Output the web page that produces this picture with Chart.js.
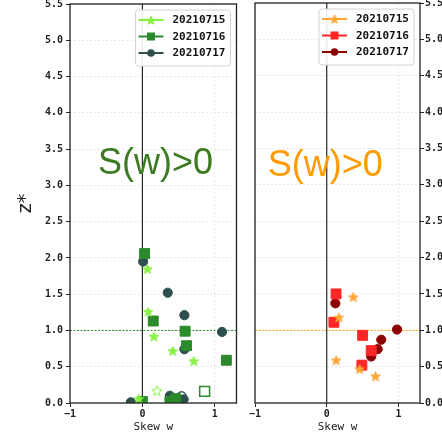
<!DOCTYPE html>
<html>
<head>
<meta charset="utf-8">
<script src="https://cdn.jsdelivr.net/npm/chart.js@4/dist/chart.umd.min.js"></script>
<style>
  html, body { margin: 0; padding: 0; background: #fff; }
  #wrap { position: relative; width: 442px; height: 435px; overflow: hidden; }
  #left { position: absolute; left: 0; top: -5px; }
  #right { position: absolute; left: 240px; top: -5px; }
</style>
</head>
<body>
<div id="wrap">
  <canvas id="left" width="245" height="440"></canvas>
  <canvas id="right" width="202" height="440"></canvas>
</div>
<script>
// series labels and ticks
var dates = ['20210715', '20210716', '20210717'];
var xTicks = [-1, 0, 1];
var yTicks = [0, 0.5, 1, 1.5, 2, 2.5, 3, 3.5, 4, 4.5, 5, 5.5];
var annotation = 'S(w)>0';

// left panel (skew w, z*)
var leftStars = [[0.07, 1.85], [0.08, 1.26], [0.16, 0.92], [0.42, 0.72], [0.71, 0.58], [-0.05, 0.06]];
var leftSquares = [[0.03, 2.06], [0.15, 1.13], [0.59, 0.99], [0.61, 0.79], [1.16, 0.59], [0.00, 0.02], [0.38, 0.02], [0.46, 0.06]];
var leftCircles = [[0.01, 1.95], [0.35, 1.52], [0.58, 1.21], [1.10, 0.98], [0.58, 0.74], [0.38, 0.10], [-0.16, 0.01], [0.57, 0.05]];
var leftHollowStar = [[0.20, 0.17]];
var leftHollowSquare = [[0.86, 0.16]];
var leftHollowCircle = [[0.54, 0.09]];

// right panel
var rightStars = [[0.37, 1.46], [0.17, 1.18], [0.13, 0.59], [0.46, 0.47], [0.68, 0.37]];
var rightSquares = [[0.13, 1.50], [0.10, 1.11], [0.50, 0.93], [0.62, 0.72], [0.49, 0.52]];
var rightCircles = [[0.12, 1.37], [0.98, 1.01], [0.76, 0.87], [0.71, 0.74], [0.62, 0.64]];

var refY = 1;
var refX = 0;

function pts(arr) {
  return arr.map(function (p) { return { x: p[0], y: p[1] }; });
}

function starImage(fill, stroke, r) {
  var c = document.createElement('canvas');
  var s = Math.ceil(r * 2 + 3);
  c.width = s; c.height = s;
  var g = c.getContext('2d');
  g.beginPath();
  for (var i = 0; i < 10; i++) {
    var rr = i % 2 === 0 ? r : r * 0.42;
    var a = -Math.PI / 2 + i * Math.PI / 5;
    var px = s / 2 + rr * Math.cos(a), py = s / 2 + 0.6 + rr * Math.sin(a);
    if (i === 0) g.moveTo(px, py); else g.lineTo(px, py);
  }
  g.closePath();
  g.fillStyle = fill; g.fill();
  g.lineWidth = 1; g.strokeStyle = stroke; g.stroke();
  return c;
}

function dataset(label, data, color, style, radius, hollow) {
  return {
    label: label,
    data: pts(data),
    pointStyle: style,
    pointRadius: radius,
    backgroundColor: hollow ? '#ffffff' : color,
    borderColor: color,
    borderWidth: hollow ? 1.5 : 1,
    showLine: false,
    legendHidden: !!hollow
  };
}

var monoBold = { family: 'DejaVu Sans Mono', size: 10, weight: 'bold' };

function makeScales(side) {
  return {
    x: {
      type: 'linear', min: -1, max: 1.3,
      afterBuildTicks: function (s) { s.ticks = xTicks.map(function (v) { return { value: v }; }); },
      afterFit: function (s) { s.height = 32; },
      grid: { color: '#e2e2e2', lineWidth: 0.8, tickLength: 4, tickColor: '#222', tickWidth: 1 },
      border: { display: false, dash: [2, 2] },
      ticks: {
        font: monoBold, color: '#222', padding: 1, maxRotation: 0,
        callback: function (v) { return v < 0 ? '\u2212' + Math.abs(v) : String(v); }
      },
      title: { display: true, text: 'Skew w', color: '#222', font: { family: 'DejaVu Sans Mono', size: 11 }, padding: { top: 0, bottom: 1 } }
    },
    y: {
      type: 'linear', min: 0, max: 5.5, position: side,
      afterBuildTicks: function (s) { s.ticks = yTicks.map(function (v) { return { value: v }; }); },
      afterFit: function (s) { s.width = side === 'left' ? 70 : 22; },
      grid: { color: '#e2e2e2', lineWidth: 0.8, tickLength: 4, tickColor: '#222', tickWidth: 1 },
      border: { display: false, dash: [2, 2] },
      ticks: {
        font: monoBold, color: '#222', padding: side === 'left' ? 3 : 1, autoSkip: false,
        callback: function (v) { return Number(v).toFixed(1); }
      },
      title: {
        display: side === 'left', text: 'z*', color: '#222',
        font: { family: 'DejaVu Sans', size: 19 }, padding: { top: 15, bottom: 0 }
      }
    }
  };
}

var panelDeco = {
  id: 'panelDeco',
  beforeDatasetsDraw: function (chart, args, o) {
    var ctx = chart.ctx, a = chart.chartArea, x = chart.scales.x, y = chart.scales.y;
    ctx.save();
    ctx.beginPath(); ctx.rect(a.left, a.top, a.right - a.left, a.bottom - a.top); ctx.clip();
    var py = y.getPixelForValue(refY);
    ctx.strokeStyle = o.refColor; ctx.lineWidth = 1; ctx.setLineDash([2, 1.5]);
    ctx.beginPath(); ctx.moveTo(a.left, py); ctx.lineTo(a.right, py); ctx.stroke();
    ctx.setLineDash([]);
    var px = x.getPixelForValue(refX);
    ctx.strokeStyle = '#2a2a2a'; ctx.lineWidth = 1.2;
    ctx.beginPath(); ctx.moveTo(px, a.top); ctx.lineTo(px, a.bottom); ctx.stroke();
    ctx.font = '36px "Liberation Sans", Arial, sans-serif';
    ctx.fillStyle = o.textColor; ctx.textAlign = 'center'; ctx.textBaseline = 'alphabetic';
    ctx.fillText(annotation, x.getPixelForValue(o.textX), y.getPixelForValue(o.textY));
    ctx.restore();
  },
  afterDraw: function (chart, args, o) {
    var ctx = chart.ctx, a = chart.chartArea;
    ctx.save();
    ctx.strokeStyle = '#222'; ctx.lineWidth = 1.3;
    ctx.strokeRect(a.left, a.top, a.right - a.left, a.bottom - a.top);

    // legend
    var bw = 95, bx = a.right - 6 - bw, by = a.top + 6, bh = 56;
    ctx.beginPath();
    if (ctx.roundRect) ctx.roundRect(bx, by, bw, bh, 3); else ctx.rect(bx, by, bw, bh);
    ctx.fillStyle = 'rgba(255,255,255,0.9)'; ctx.fill();
    ctx.strokeStyle = '#d4d4d4'; ctx.lineWidth = 1; ctx.stroke();
    var shown = chart.data.datasets.filter(function (d) { return !d.legendHidden; });
    ctx.font = 'bold 11px "DejaVu Sans Mono"';
    ctx.textBaseline = 'middle'; ctx.textAlign = 'left';
    shown.forEach(function (d, i) {
      var ry = by + 10 + i * 16.5;
      var lx0 = bx + 3, lx1 = bx + 28, mx = (lx0 + lx1) / 2;
      ctx.strokeStyle = d.borderColor; ctx.lineWidth = 2;
      ctx.beginPath(); ctx.moveTo(lx0, ry); ctx.lineTo(lx1, ry); ctx.stroke();
      ctx.fillStyle = d.borderColor;
      if (d.pointStyle === 'circle') {
        ctx.beginPath(); ctx.arc(mx, ry, 3.8, 0, Math.PI * 2); ctx.fill();
      } else if (d.pointStyle === 'rect') {
        ctx.fillRect(mx - 4, ry - 4, 8, 8);
      } else {
        ctx.drawImage(o.legendStar, mx - o.legendStar.width / 2, ry - o.legendStar.height / 2);
      }
      ctx.fillStyle = '#111';
      ctx.fillText(d.label, bx + 37, ry + 0.5);
    });
    ctx.restore();
  }
};

function makeChart(id, datasets, side, deco) {
  var layoutPad = side === 'left' ? { top: 3, right: 0, left: 0, bottom: 0 } : { top: 3, right: 0, left: 15, bottom: 0 };
  return new Chart(document.getElementById(id).getContext('2d'), {
    type: 'scatter',
    data: { datasets: datasets },
    options: {
      responsive: false,
      animation: false,
      events: [],
      layout: { padding: layoutPad },
      scales: makeScales(side),
      plugins: {
        legend: { display: false },
        tooltip: { enabled: false },
        panelDeco: deco
      }
    },
    plugins: [panelDeco]
  });
}

var lc = ['#86f040', '#2b8a2b', '#2f4f4f'];
var rc = ['#ffa534', '#ff2626', '#8b0000'];

makeChart('left', [
  dataset(dates[0], leftStars, lc[0], starImage(lc[0], lc[0], 5), 5),
  dataset(dates[1], leftSquares, lc[1], 'rect', 7),
  dataset(dates[2], leftCircles, lc[2], 'circle', 4.6),
  dataset(dates[0], leftHollowStar, lc[0], starImage('#ffffff', lc[0], 5.5), 5, true),
  dataset(dates[1], leftHollowSquare, lc[1], 'rect', 7, true),
  dataset(dates[2], leftHollowCircle, lc[2], 'circle', 4.6, true)
], 'left', { refColor: '#2b8a2b', textColor: '#3d7b22', textX: 0.18, textY: 3.15, legendStar: starImage(lc[0], lc[0], 4.5) });

makeChart('right', [
  dataset(dates[0], rightStars, rc[0], starImage(rc[0], rc[0], 5), 5),
  dataset(dates[1], rightSquares, rc[1], 'rect', 7),
  dataset(dates[2], rightCircles, rc[2], 'circle', 4.6)
], 'right', { refColor: '#ffa500', textColor: '#ff9a00', textX: -0.02, textY: 3.12, legendStar: starImage(rc[0], rc[0], 4.5) });
</script>
</body>
</html>
